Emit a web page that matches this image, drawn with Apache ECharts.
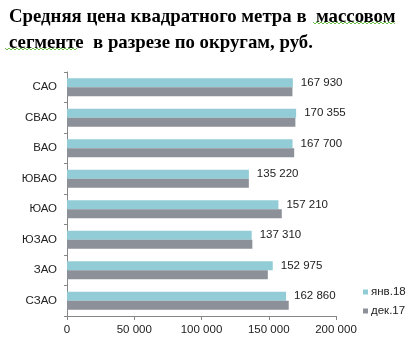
<!DOCTYPE html>
<html><head><meta charset="utf-8">
<script src="https://cdn.jsdelivr.net/npm/echarts@6/dist/echarts.min.js"></script>
<style>html,body{margin:0;padding:0;background:#fff}#c{width:419px;height:352px}</style>
</head><body><div id="c"></div>
<script>
const categories = ['САО','СВАО','ВАО','ЮВАО','ЮАО','ЮЗАО','ЗАО','СЗАО'];
const jan18 = [167930,170355,167700,135220,157210,137310,152975,162860];
const dec17 = [167600,169800,168900,135200,159700,137800,149300,164850];
const seriesNames = ['янв.18','дек.17'];
const xTicks = [0,50000,100000,150000,200000];
const titleLines = ['Средняя цена квадратного метра в  массовом','сегменте  в разрезе по округам, руб.'];

function fmt(v){ return String(Math.round(v)).replace(/\B(?=(\d{3})+(?!\d))/g,' '); }
function wavy(x0,x1,y){ const pts=[]; let up=true; for(let x=x0;x<=x1;x+=2){pts.push([x,up?y-1:y+1]);up=!up;} return pts; }

const chart = echarts.init(document.getElementById('c'));
chart.setOption({
  animation:false,
  backgroundColor:'#fff',
  title:{
    text: titleLines.join('\n'),
    left:4, top:-1,
    textStyle:{fontFamily:'Liberation Serif',fontWeight:'bold',fontSize:18.8,lineHeight:26,color:'#000'}
  },
  graphic:[
    {type:'polyline',shape:{points:wavy(313,395,23)},style:{stroke:'#6bbf4a',lineWidth:1,fill:null},silent:true},
    {type:'polyline',shape:{points:wavy(5,78,49)},style:{stroke:'#6bbf4a',lineWidth:1,fill:null},silent:true}
  ],
  legend:{
    orient:'vertical', left:358, top:281,
    itemWidth:5, itemHeight:5, itemGap:7,
    icon:'rect',
    textStyle:{fontFamily:'Liberation Sans',fontSize:11.5,color:'#222',padding:[0,0,0,-2]},
    data:seriesNames
  },
  grid:{left:67,right:83,top:72,bottom:36},
  xAxis:{
    type:'value', min:xTicks[0], max:xTicks[xTicks.length-1], interval:50000,
    axisLine:{show:true,lineStyle:{color:'#868686'}},
    axisTick:{show:true,length:4,lineStyle:{color:'#868686'}},
    splitLine:{show:false},
    axisLabel:{formatter:fmt,fontFamily:'Liberation Sans',fontSize:11.5,color:'#222',margin:8}
  },
  yAxis:{
    type:'category', data:categories, inverse:true,
    axisLine:{show:true,lineStyle:{color:'#868686'}},
    axisTick:{show:true,length:3,lineStyle:{color:'#868686'}},
    axisLabel:{fontFamily:'Liberation Sans',fontSize:11.5,color:'#222',margin:10}
  },
  series:[
    {name:seriesNames[0],type:'bar',data:jan18,barWidth:9,barGap:'0%',
     itemStyle:{color:'#92ccd6'},
     label:{show:true,position:'right',distance:8,formatter:p=>fmt(p.value),
       fontFamily:'Liberation Sans',fontSize:11.5,color:'#222'}},
    {name:seriesNames[1],type:'bar',data:dec17,barWidth:9,barGap:'0%',
     itemStyle:{color:'#8b9099'}}
  ]
});
</script></body></html>
